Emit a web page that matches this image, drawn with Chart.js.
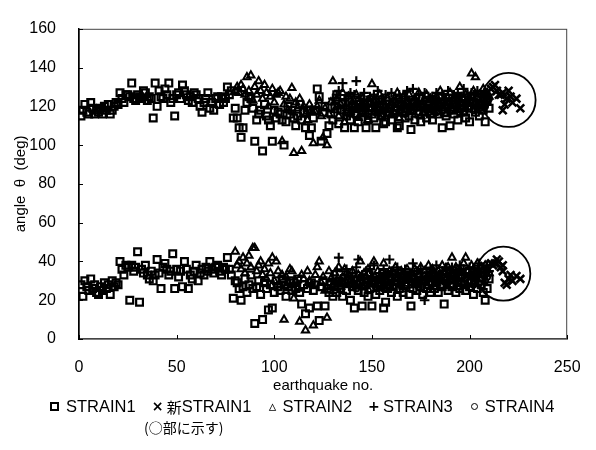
<!DOCTYPE html>
<html><head><meta charset="utf-8">
<script src="https://cdn.jsdelivr.net/npm/chart.js@4"></script>
<style>
html,body{margin:0;padding:0;background:#fff;}
#wrap{position:relative;width:596px;height:450px;overflow:hidden;}
#c{position:absolute;left:0;top:0;}
#legend{position:absolute;left:48px;top:396px;height:20px;line-height:20px;font:16.5px "Liberation Sans",Arial,sans-serif;color:#000;white-space:nowrap;display:flex;gap:16px;}
#legend .it{display:flex;align-items:center;}
#legend .mk{display:inline-block;width:10px;text-align:center;margin-right:5px;font-weight:bold;font-family:"DejaVu Sans",sans-serif;}
#legend .sq{width:5px;height:5px;border:2px solid #000;margin-right:7px;margin-left:2px;}
#legend .ci{width:5px;height:5px;border:1.8px solid #000;border-radius:50%;margin-right:7px;margin-left:2px;}
#legend .cj{font-family:"Noto Sans CJK JP",sans-serif;font-size:15px;}
#note{position:absolute;left:144px;top:417px;line-height:20px;font:14px "Noto Sans CJK JP",sans-serif;color:#000;white-space:nowrap;}
</style></head>
<body><div id="wrap"><canvas id="c" width="596" height="450"></canvas>
<div id="legend">
<span class="it"><span class="sq mk"></span>STRAIN1</span>
<span class="it"><span class="mk" style="font-size:14px">×</span><span class="cj">新</span>STRAIN1</span>
<span class="it"><span class="mk" style="font-size:15px">▵</span>STRAIN2</span>
<span class="it"><span class="mk" style="font-size:14px">+</span>STRAIN3</span>
<span class="it"><span class="ci mk"></span>STRAIN4</span>
</div>
<div id="note">(○部に示す)</div>
</div>
<script>
// ---- tick labels ----
const xTickValues = [0, 50, 100, 150, 200, 250];
const yTickValues = [0, 20, 40, 60, 80, 100, 120, 140, 160];

// ---- STRAIN1 (earthquake no. 1..210) ----
const strain1Start = 1;
const strain1Upper = [
115,118,121,117,116,122,119,116,118,117,
119,116,120,118,121,116,118,120,122,121,
127,124,122,126,126,125,132,124,123,126,
125,124,128,127,123,125,124,114,132,120,
128,125,124,129,126,132,122,124,115,126,
127,124,131,128,126,123,125,122,127,126,
124,120,117,122,124,127,119,122,118,124,
125,121,125,122,124,130,126,128,114,119,
114,109,104,109,118,122,125,124,119,102,
113,116,118,97,121,115,113,110,102,118,
114,117,116,113,100,112,120,116,118,114,
110,115,121,113,117,109,118,105,109,114,
118,129,125,102,117,120,106,110,116,113,
120,126,111,118,122,109,115,117,113,120,
109,116,112,121,118,119,109,113,122,116,
114,109,118,120,115,111,112,117,119,113,
116,118,109,110,121,117,114,119,115,108,
118,113,120,116,112,121,117,114,119,116,
113,120,118,116,122,109,117,115,121,110,
118,116,121,113,119,124,117,114,120,112,
119,122,117,125,115,121,118,112,123,119];
const strain1Lower = [
28,22,30,27,25,31,26,28,24,23,
27,25,29,26,28,23,30,27,29,28,
40,36,33,38,37,20,38,35,37,45,
19,36,34,38,33,31,35,30,33,41,
34,26,37,39,36,33,35,44,26,36,
32,35,27,40,36,26,33,31,35,38,
30,34,36,33,37,35,40,36,34,37,
38,35,33,37,36,42,36,33,21,30,
29,26,20,27,31,24,28,33,26,8,
27,30,23,10,29,26,15,28,16,24,
30,27,25,31,28,22,27,30,25,29,
26,31,24,18,28,13,26,16,29,25,
28,17,9.5,27,30,17,26,24,28,22,
27,24,30,26,22,29,25,31,20,27,
16,28,25,30,17,24,28,22,26,17,
29,23,27,25,31,16,19,26,28,24,
27,30,22,26,29,24,28,31,23,17,
26,29,25,32,27,23,30,26,28,24,
29,26,31,24,28,27,18,30,25,28,
27,31,24,29,26,33,28,25,30,27,
29,23,32,26,30,28,24,20,26,31];

// ---- new STRAIN1 (shown in the circles) ----
const newStrain1X = [211,212,213,214,215,216,217,217,218,219,220,221,222,224,226];
const newStrain1Upper = [129,130,131,128,126,126,118,127,121,124,128,125,122,124,119];
const newStrain1Lower = [39,38,39,41,40,37,38,35,29,28,31,33,30,32.5,31];

// ---- STRAIN2 (earthquake no. 80..210) ----
const strain2Start = 80;
const strain2Upper = [
128,130,127,131,129,126,135,128,136,123,
130,126,133,128,124,131,127,120,125,129,
122,126,127,128,102,121,125,118,124,129.5,
96,122,119,124,97,120,116,113,121,118,
101,117,120,123,115,104,119,100,116,122,
133,118,124,115,121,127,112,119,125,117,
122,118,126,114,120,124,116,121,113,119,
131.5,117,123,119,126,115,122,118,124,120,
116,123,119,127,114,121,125,118,122,126,
120,117,124,121,127,115,122,119,126,118,
124,120,117,125,121,128,119,123,116,122,
127,120,125,118,123,130,121,117,126,122,
124,137,128,135,121,126,119,129,123,127,
125];
const strain2Lower = [
45,38,40,36,42,34,39,43,37,47,
47,35,38,40,33,36,31,39,34,42,
30,40,35,28,33,10,32,29,36,35,
21,30,26,9,33,31,4.5,35,30,28,
7,33,37,40,29,32,25,11,35,31,
28,34,30,37,27,32,36,29,33,30,
35,28,31,33,40,27,34,30,36,29,
32,40,28,35,31,27,39,33,30,35,
29,34,37,31,28,35,33,30,36,32,
34,31,36,29,33,37,30,35,32,38,
31,36,33,29,35,32,38,34,31,37,
35,42,33,37,31,36,34,39,42,35,
33,38,36,31,39,35,37,33,38,36,
34];

// ---- STRAIN3 (earthquake no. 130..210) ----
const strain3Start = 130;
const strain3Upper = [
124,121,126,128,119,132,123,120,125,127,
122,126,133,119,124,121,127,118,123,125,
120,126,122,128,117,124,121,126,119,123,
127,121,124,118,126,122,120,125,128,123,
119,129,124,121,126,120,123,127,118,124,
122,125,120,127,123,119,126,121,124,128,
121,124,126,120,127,123,125,129,122,126,
124,127,121,126,128,123,125,120,127,124,
126];
const strain3Lower = [
31,28,35,42,30,27,33,36,29,32,
34,30,37,41,28,33,31,35,29,36,
32,38,30,27,34,31,36,33,29,41,
35,30,33,37,28,34,31,36,32,30,
33,39,31,35,29,36,32,20,34,30,
36,31,34,38,30,33,35,29,37,32,
34,37,31,35,33,38,30,36,34,32,
37,33,36,31,35,39,34,32,36,38,
35];

// ---- STRAIN4 (earthquake no. 140..210) ----
const strain4Start = 140;
const strain4Upper = [
118,121,116,123,119,117,122,120,115,124,
119,122,117,121,118,124,116,120,123,119,
121,117,122,119,124,118,120,116,123,121,
118,122,119,125,117,121,120,123,118,122,
119,124,121,117,123,120,118,122,125,119,
121,118,123,120,124,117,122,119,121,125,
120,123,118,122,124,119,121,123,120,122,
124];
const strain4Lower = [
28,31,26,33,29,27,32,30,25,34,
29,32,27,31,28,34,26,30,33,29,
31,27,32,29,34,28,30,26,33,31,
28,32,29,35,27,31,30,33,28,32,
29,34,31,27,33,30,28,32,35,29,
31,28,33,30,34,27,32,29,31,35,
30,33,28,32,34,29,31,33,30,32,
34];

// ---- highlight circles (center in data units) ----
const circleX = [220, 217.3];
const circleY = [123.3, 33.7];

function seq(start, arr) { return arr.map((v, i) => ({x: start + i, y: v})); }
function pairs(xs, ys) { return ys.map((v, i) => ({x: xs[i], y: v})); }

const FONT = '"Liberation Sans", Arial, sans-serif';
const NOFILL = 'rgba(255,255,255,0)';

const framePlugin = {
  id: 'frame',
  beforeDatasetsDraw(chart) {
    const {ctx, chartArea: a, scales: {x, y}} = chart;
    ctx.save();
    ctx.strokeStyle = '#444';
    ctx.lineWidth = 1;
    ctx.strokeRect(a.left + 0.5, a.top + 0.5, a.width - 1, a.height - 1);
    ctx.strokeStyle = '#000';
    y.ticks.forEach(t => {
      const py = Math.round(y.getPixelForValue(t.value)) + 0.5;
      ctx.beginPath(); ctx.moveTo(a.left, py); ctx.lineTo(a.left + 4, py); ctx.stroke();
    });
    x.ticks.forEach(t => {
      const px = Math.round(x.getPixelForValue(t.value)) + 0.5;
      ctx.beginPath(); ctx.moveTo(px, a.bottom); ctx.lineTo(px, a.bottom - 4); ctx.stroke();
    });
    ctx.restore();
  }
};

new Chart(document.getElementById('c'), {
  type: 'scatter',
  data: {
    datasets: [
      {label: 'circles', type: 'bubble',
       data: circleX.map((v, i) => ({x: v, y: circleY[i], r: 27})),
       backgroundColor: 'rgba(0,0,0,0)', borderColor: '#000', borderWidth: 1.8, order: 0},
      {label: 'STRAIN1', data: seq(strain1Start, strain1Upper).concat(seq(strain1Start, strain1Lower)),
       pointStyle: 'rect', pointRadius: 4.8, borderWidth: 2.2, borderColor: '#000', backgroundColor: NOFILL, order: 1},
      {label: '新STRAIN1', data: pairs(newStrain1X, newStrain1Upper).concat(pairs(newStrain1X, newStrain1Lower)),
       pointStyle: 'crossRot', pointRadius: 5.5, borderWidth: 2.6, borderColor: '#000', backgroundColor: '#000', order: 2},
      {label: 'STRAIN2', data: seq(strain2Start, strain2Upper).concat(seq(strain2Start, strain2Lower)),
       pointStyle: 'triangle', pointRadius: 4.2, borderWidth: 2, borderColor: '#000', backgroundColor: NOFILL, order: 3},
      {label: 'STRAIN3', data: seq(strain3Start, strain3Upper).concat(seq(strain3Start, strain3Lower)),
       pointStyle: 'cross', pointRadius: 4.8, borderWidth: 2.2, borderColor: '#000', backgroundColor: '#000', order: 4},
      {label: 'STRAIN4', data: seq(strain4Start, strain4Upper).concat(seq(strain4Start, strain4Lower)),
       pointStyle: 'circle', pointRadius: 3, borderWidth: 1.8, borderColor: '#000', backgroundColor: NOFILL, order: 5}
    ]
  },
  options: {
    responsive: false, animation: false, devicePixelRatio: 1,
    layout: {padding: {left: 0, right: 28, top: 14, bottom: 50}},
    plugins: {legend: {display: false}, tooltip: {enabled: false}},
    scales: {
      x: {
        type: 'linear', min: 0, max: 250,
        afterBuildTicks: s => { s.ticks = xTickValues.map(v => ({value: v})); },
        afterFit: s => { s.height = 61; },
        grid: {display: false},
        border: {display: true, color: '#000', width: 1.5},
        ticks: {color: '#000', padding: 11, font: {family: FONT, size: 16}, maxRotation: 0},
        title: {display: true, text: 'earthquake no.', color: '#000', font: {family: FONT, size: 15}, padding: {top: 0, bottom: 5}}
      },
      y: {
        type: 'linear', min: 0, max: 160,
        afterBuildTicks: s => { s.ticks = yTickValues.map(v => ({value: v})); },
        afterFit: s => { s.width = 79; },
        grid: {display: false},
        border: {display: true, color: '#000', width: 1.5},
        ticks: {color: '#000', padding: 15, font: {family: FONT, size: 16}},
        title: {display: true, text: 'angle  θ  (deg)', color: '#000', font: {family: FONT, size: 15}, padding: {top: 12, bottom: 0}}
      }
    }
  },
  plugins: [framePlugin]
});
</script>
</body></html>
